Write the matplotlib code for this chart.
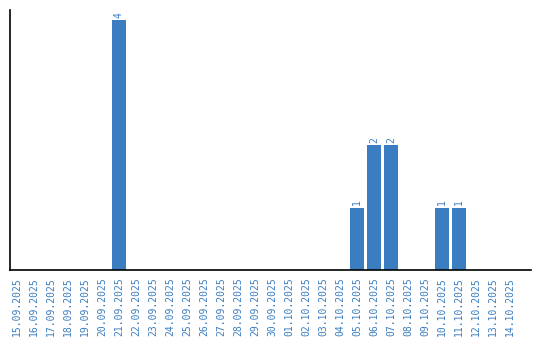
import matplotlib
matplotlib.use('Agg')
import matplotlib.pyplot as plt
import pandas as pd

# Daily counts, 15.09.2025 - 14.10.2025
dates = pd.date_range('2025-09-15', '2025-10-14', freq='D')
date_labels = [d.strftime('%d.%m.%Y') for d in dates]
counts = [0, 0, 0, 0, 0, 0, 4, 0, 0, 0,
          0, 0, 0, 0, 0, 0, 0, 0, 0, 0,
          1, 2, 2, 0, 0, 1, 1, 0, 0, 0]

blue = '#3b7dc1'

fig = plt.figure(figsize=(5.4, 3.4), dpi=100)
ax = fig.add_axes([10 / 540, 70 / 340, 521 / 540, 260 / 340])

x = list(range(len(counts)))
bars = ax.bar(x, counts, width=0.82, color=blue)

# value labels above non-empty bars
for xi, c in zip(x, counts):
    if c > 0:
        ax.text(xi, c + 0.04, str(c), rotation=90, ha='center', va='bottom',
                color=blue, fontsize=7, family='DejaVu Sans Mono')

ax.set_xlim(-0.41, len(counts) + 0.23)
ax.set_ylim(0, 4.16)
ax.set_xticks(x)
ax.set_xticklabels(date_labels, rotation=90, color=blue, fontsize=7,
                   family='DejaVu Sans Mono')
ax.tick_params(axis='x', length=0, pad=5)
ax.set_yticks([])
ax.spines['top'].set_visible(False)
ax.spines['right'].set_visible(False)
ax.spines['left'].set_linewidth(1.2)
ax.spines['bottom'].set_linewidth(1.2)

fig.savefig('out.png', dpi=100)
